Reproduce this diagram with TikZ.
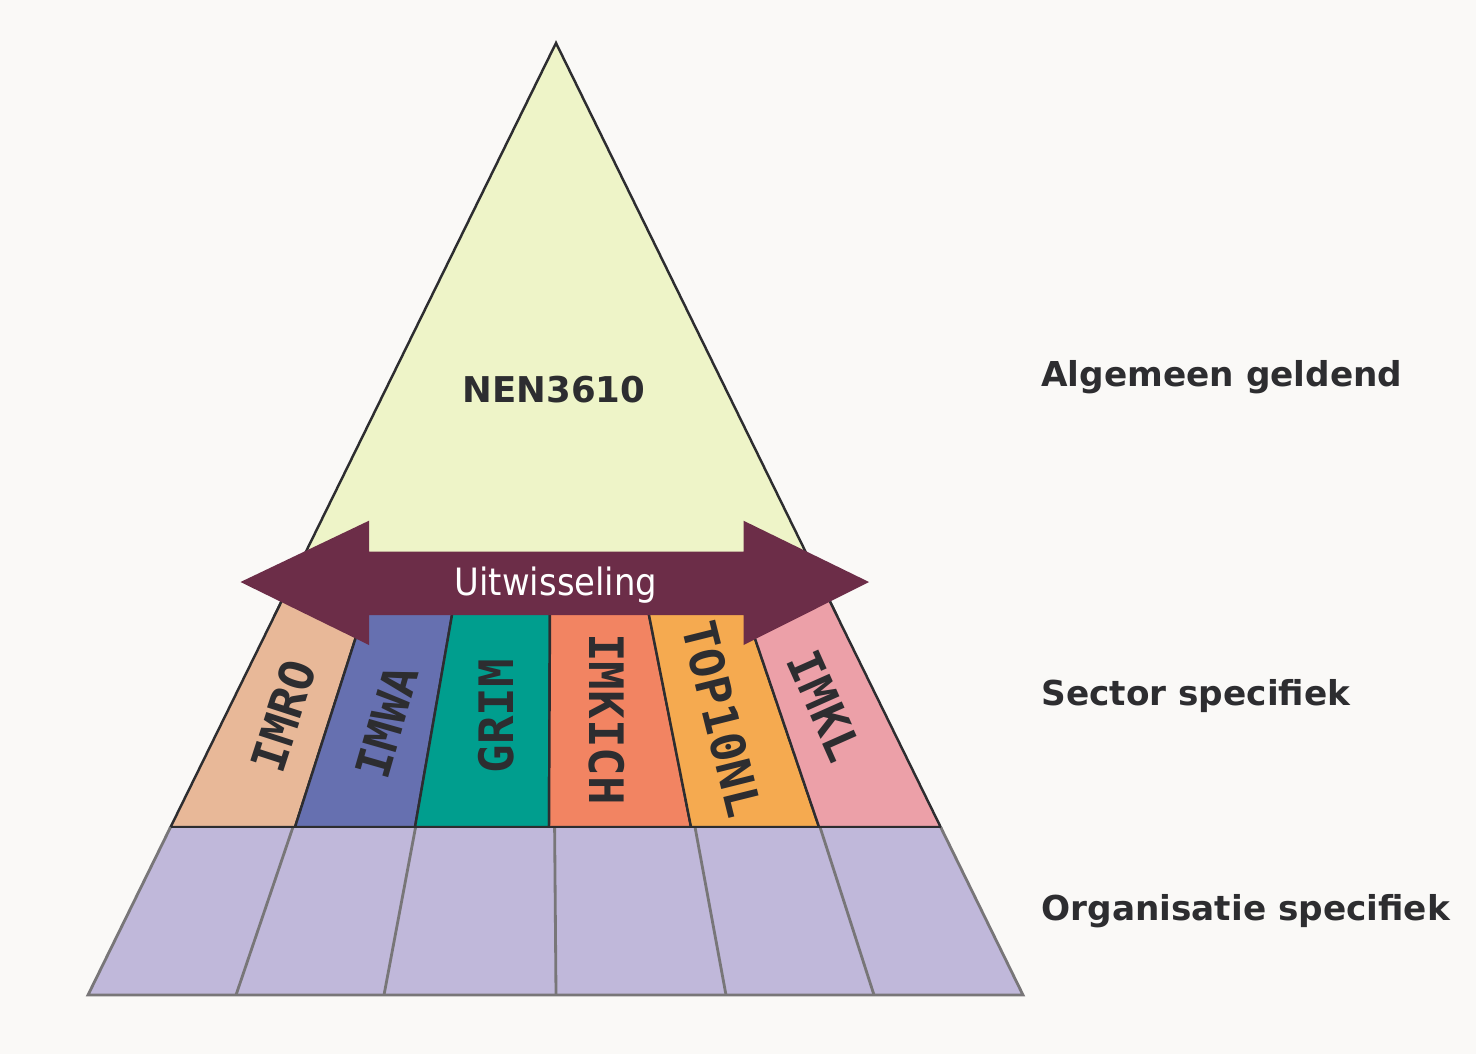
\documentclass[tikz,border=0pt]{standalone}
\usepackage{fontspec}
\setmainfont{DejaVu Sans}
\newfontfamily\monofont{DejaVu Sans Mono}
\newfontfamily\condfont{DejaVu Sans Condensed}
\definecolor{bg}{RGB}{250,249,247}
\definecolor{nen}{RGB}{238,244,200}
\definecolor{imro}{RGB}{232,184,152}
\definecolor{imwa}{RGB}{102,112,176}
\definecolor{grim}{RGB}{0,158,142}
\definecolor{imkich}{RGB}{242,132,98}
\definecolor{topnl}{RGB}{245,170,80}
\definecolor{imkl}{RGB}{236,160,168}
\definecolor{org}{RGB}{192,184,218}
\definecolor{wissel}{RGB}{108,45,72}
\definecolor{ink}{RGB}{45,45,48}
\definecolor{cellline}{RGB}{120,118,120}
\tikzstyle{band}=[draw=ink, line width=0.7pt]
\tikzstyle{cell}=[draw=cellline, line width=0.8pt]
\tikzstyle{sector}=[text=ink, inner sep=0pt, font=\monofont\bfseries\fontsize{13.5}{14}\selectfont]
\tikzstyle{level}=[text=ink, anchor=west, font=\bfseries\fontsize{9.75}{12}\selectfont]

\begin{document}
\begin{tikzpicture}[x=0.01cm, y=-0.01cm]
	\fill[bg] (0,0) rectangle (1476,1054);
	\useasboundingbox (0,0) rectangle (1476,1054);
	% algemeen
	\filldraw[band, fill=nen] (556,43) -- (836.6,615) -- (274.8,615) -- cycle;
	% sector
	\filldraw[band, fill=imro] (282.2,600) -- (367.8,600) -- (295,827) -- (170.6,827) -- cycle;
	\filldraw[band, fill=imwa] (367.8,600) -- (454.6,600) -- (415,827) -- (295,827) -- cycle;
	\filldraw[band, fill=grim] (454.6,600) -- (550,600) -- (549,827) -- (415,827) -- cycle;
	\filldraw[band, fill=imkich] (550,600) -- (646,600) -- (691,827) -- (549,827) -- cycle;
	\filldraw[band, fill=topnl] (646,600) -- (741.9,600) -- (819,827) -- (691,827) -- cycle;
	\filldraw[band, fill=imkl] (741.9,600) -- (829.2,600) -- (940.6,827) -- (819,827) -- cycle;
	% organisatie
	\fill[org] (170.6,827) -- (940.6,827) -- (1023,995) -- (88,995) -- cycle;
	\draw[cell] (293,827) -- (236,995);
	\draw[cell] (415.6,827) -- (384,995);
	\draw[cell] (554.6,827) -- (556,995);
	\draw[cell] (695,827) -- (726,995);
	\draw[cell] (820,827) -- (874,995);
	\draw[cell] (170.6,827) -- (88,995) -- (1023,995) -- (940.6,827);
	\draw[band] (170.6,827) -- (940.6,827);
	% uitwisseling
	\fill[wissel] (240.5,582) -- (369,520.7) -- (369,551.7) -- (743.5,551.7) -- (743.5,520.7)
		-- (869,582) -- (743.5,645) -- (743.5,615) -- (369,615) -- (369,645) -- cycle;
	\node[text=white, font=\condfont\fontsize{10.7}{12}\selectfont] (wissel) at (556,585) {Uitwisseling};
	\node[text=ink, font=\bfseries\fontsize{10.1}{12}\selectfont] (nen) at (554,390) {NEN3610};
	\node[sector, rotate=72] (imro) at (283.5,716) {IMRO};
	\node[sector, rotate=74] (imwa) at (386.6,722) {IMWA};
	\node[sector, rotate=90] (grim) at (496,716) {GRIM};
	\node[sector, rotate=-90] (imkich) at (607,719) {IMKICH};
	\node[sector, rotate=-76] (topnl) at (722,719) {TOP10NL};
	\node[sector, rotate=-66] (imkl) at (825,706) {IMKL};
	\node[level] (algemeen) at (1029,377) {Algemeen geldend};
	\node[level] (sectorspec) at (1029,696) {Sector specifiek};
	\node[level] (orgspec) at (1029,911) {Organisatie specifiek};
\end{tikzpicture}
\end{document}
